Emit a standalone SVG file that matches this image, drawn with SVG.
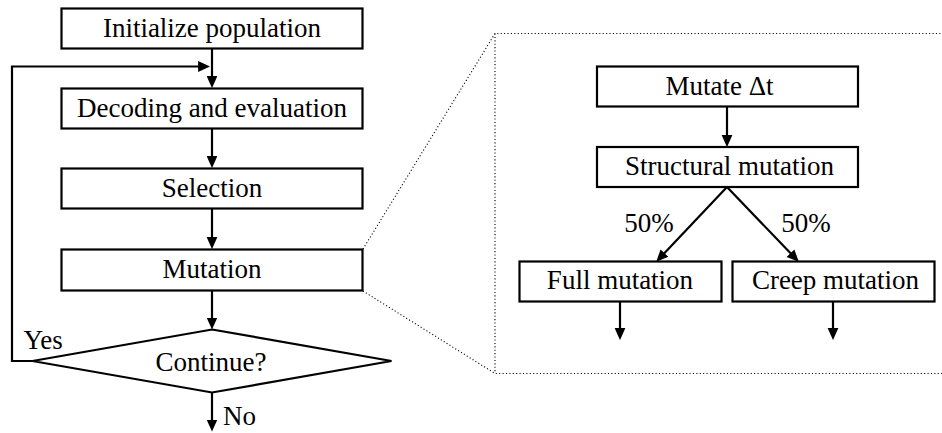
<svg xmlns="http://www.w3.org/2000/svg" width="942" height="433" viewBox="0 0 942 433" font-family="Liberation Serif" font-size="27">
  <style>
    .box { fill: #ffffff; stroke: #000000; stroke-width: 2.2; }
    .c { text-anchor: middle; }
    .edge { fill: none; stroke: #000000; stroke-width: 2.2; }
    .dot { fill: none; stroke: #000000; stroke-width: 1.1; stroke-dasharray: 1.1 2.3; }
  </style>
  <defs>
    <marker id="arrow" markerUnits="userSpaceOnUse" markerWidth="12" markerHeight="12" viewBox="0 0 10 10" refX="7" refY="5" orient="auto">
      <path d="M0,0.5 L10,5 L0,9.5 z" fill="#000000"/>
    </marker>
  </defs>

  <rect width="942" height="433" fill="#ffffff"/>

  <!-- zoom outline: dotted frame around the detailed mutation step -->
  <g id="detail-frame">
    <path class="dot" d="M363,249 L495,33.5 H945"/>
    <path class="dot" d="M363,291 L495,373.5 H945"/>
    <path class="dot" d="M495,33.5 V373.5"/>
  </g>

  <!-- connectors -->
  <g id="connectors">
    <path class="edge" d="M212,48.5 V84.5" marker-end="url(#arrow)"/>
    <path class="edge" d="M33,361 H12 V66.5 H206.5" marker-end="url(#arrow)"/>
    <path class="edge" d="M212,128.5 V164.5" marker-end="url(#arrow)"/>
    <path class="edge" d="M212,208.5 V245.5" marker-end="url(#arrow)"/>
    <path class="edge" d="M212,290.5 V326" marker-end="url(#arrow)"/>
    <path class="edge" d="M212,392.5 V428" marker-end="url(#arrow)"/>
    <path class="edge" d="M727,106.5 V143.5" marker-end="url(#arrow)"/>
    <path class="edge" d="M727,187 L658.7,259.2" marker-end="url(#arrow)"/>
    <path class="edge" d="M727,187 L796.3,259.2" marker-end="url(#arrow)"/>
    <path class="edge" d="M620,301.5 V336.5" marker-end="url(#arrow)"/>
    <path class="edge" d="M833,301.5 V336.5" marker-end="url(#arrow)"/>
    <text x="23.5" y="349">Yes</text>
    <text x="223" y="425">No</text>
    <text class="c" x="649" y="231.5">50%</text>
    <text class="c" x="806" y="231.5">50%</text>
  </g>

  <!-- main loop -->
  <g id="init">
    <rect class="box" x="61.5" y="8.5" width="301" height="40"/>
    <text class="c" x="212" y="36.5">Initialize population</text>
  </g>
  <g id="decode">
    <rect class="box" x="61.5" y="88.5" width="301" height="40"/>
    <text class="c" x="212" y="116.5">Decoding and evaluation</text>
  </g>
  <g id="select">
    <rect class="box" x="61.5" y="168.5" width="301" height="40"/>
    <text class="c" x="212" y="196.5">Selection</text>
  </g>
  <g id="mutate">
    <rect class="box" x="61.5" y="249.5" width="301" height="41"/>
    <text class="c" x="212" y="277.5">Mutation</text>
  </g>
  <g id="continue">
    <polygon class="box" points="212,329.5 391.5,361 212,392.5 32.5,361"/>
    <text class="c" x="211" y="370.5">Continue?</text>
  </g>

  <!-- mutation detail -->
  <g id="mutate-dt">
    <rect class="box" x="597" y="66.5" width="261" height="40"/>
    <text class="c" x="719.5" y="94.5">Mutate Δt</text>
  </g>
  <g id="structural">
    <rect class="box" x="597" y="147" width="261" height="40"/>
    <text class="c" x="729.5" y="174.5">Structural mutation</text>
  </g>
  <g id="full">
    <rect class="box" x="519.5" y="261.5" width="202" height="40"/>
    <text class="c" x="620" y="288.5">Full mutation</text>
  </g>
  <g id="creep">
    <rect class="box" x="732.5" y="261.5" width="202" height="40"/>
    <text class="c" x="835.5" y="288.5">Creep mutation</text>
  </g>
</svg>
